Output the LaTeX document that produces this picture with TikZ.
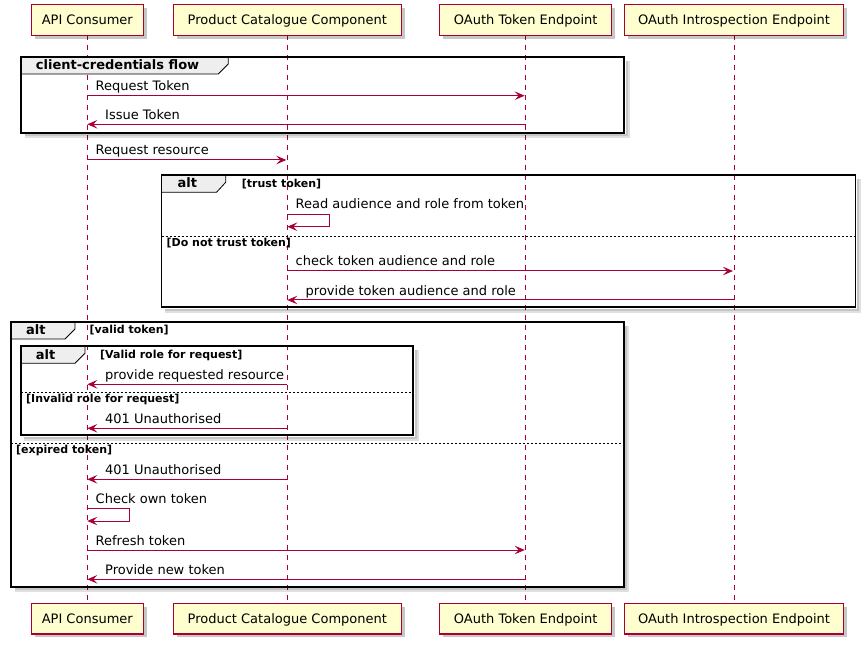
\documentclass[tikz,border=0pt]{standalone}
\usepackage{fontspec}
\setmainfont{DejaVu Sans}
\usetikzlibrary{arrows.meta,shadows}
\definecolor{pborder}{HTML}{A80036}
\definecolor{pfill}{HTML}{FEFECE}
\definecolor{tabfill}{HTML}{EEEEEE}
\begin{document}
\begin{tikzpicture}[x=1pt,y=-1pt,
  part/.style={draw=pborder, fill=pfill, line width=1.1pt, minimum height=30.5pt, inner sep=0pt,
    font=\fontsize{13}{15}\selectfont, text height=9.5pt, text depth=0pt,
    drop shadow={shadow xshift=3.5pt, shadow yshift=-3.5pt, fill=black, opacity=0.22}},
  life/.style={draw=pborder, line width=1pt, dash pattern=on 5pt off 5pt},
  msg/.style={draw=pborder, line width=1pt, -{Stealth[length=10pt,width=8.5pt,inset=4pt]}},
  lbl/.style={font=\fontsize{13}{15}\selectfont, inner sep=0pt, anchor=base west},
  glbl/.style={font=\fontsize{13}{15}\selectfont\bfseries, inner sep=0pt, anchor=base west},
  guard/.style={font=\fontsize{11}{13}\selectfont\bfseries, inner sep=0pt, anchor=base west},
  frm/.style={draw=black, line width=1.9pt},
  fshadow/.style={draw=black, opacity=0.12, line width=4pt},
  fshadowb/.style={draw=black, opacity=0.12, line width=2pt},
  tabs/.style={draw=black, line width=0.8pt, fill=tabfill},
  sep/.style={draw=black, line width=0.7pt, dash pattern=on 2pt off 2pt}
]
\useasboundingbox (0,0) rectangle (868,647);

% lifeline anchors (participant centres)
\coordinate (ca) at (87.3,20);
\coordinate (cp) at (287.3,20);
\coordinate (ct) at (525.7,20);
\coordinate (ci) at (734,20);
\coordinate (ba) at (87.3,618.7);
\coordinate (bp) at (287.3,618.7);
\coordinate (bt) at (525.7,618.7);
\coordinate (bi) at (734,618.7);

% lifelines
\draw[life] (ca) ++(0,15) coordinate (la1) -- (ba |- 0,603.3) coordinate (la2);
\draw[life] (cp) ++(0,15) coordinate (lp1) -- (bp |- 0,603.3) coordinate (lp2);
\draw[life] (ct) ++(0,15) coordinate (lt1) -- (bt |- 0,603.3) coordinate (lt2);
\draw[life] (ci) ++(0,15) coordinate (li1) -- (bi |- 0,603.3) coordinate (li2);

% ---- frame: client-credentials flow
\draw[fshadow] (627.5,61) -- (627.5,136.2) -- (24.5,136.2);
\draw[fshadowb] (626.5,61) -- (626.5,135.2) -- (24.5,135.2);
\draw[tabs] (20.7,57.3) -- (228.3,57.3) -- (228.3,64) -- (218.3,74) -- (20.7,74) -- cycle;
\draw[frm] (20.7,57.3) rectangle (624,132.7);
\node[glbl] (g1) at (35.7,70) {client-credentials flow};

% ---- frame: alt trust token
\draw[fshadow] (859,179) -- (859,310.8) -- (165,310.8);
\draw[fshadowb] (858,179) -- (858,309.8) -- (165,309.8);
\draw[tabs] (161.5,175) -- (225.7,175) -- (225.7,182.3) -- (216.5,192.3) -- (161.5,192.3) -- cycle;
\draw[frm] (161.5,175) rectangle (855.5,307.3);
\node[glbl] (g2) at (177.5,188) {alt};
\node[guard] (g2a) at (241.7,187.5) {[trust token]};
\draw[sep] (161.5,236.7) -- (855.5,236.7);
\node[guard] (g2b) at (166.5,246.5) {[Do not trust token]};

% ---- frame: outer alt valid token
\draw[fshadow] (627.2,325.5) -- (627.2,590.2) -- (14.5,590.2);
\draw[fshadowb] (626.2,325.5) -- (626.2,589.2) -- (14.5,589.2);
\draw[tabs] (11,321.7) -- (75,321.7) -- (75,329) -- (65,339) -- (11,339) -- cycle;
\draw[frm] (11,321.7) rectangle (623.7,586.7);
\node[glbl] (g3) at (26,334.5) {alt};
\node[guard] (g3a) at (89.5,334) {[valid token]};
\draw[sep] (11,443.3) -- (623.7,443.3);
\node[guard] (g3b) at (16,453.8) {[expired token]};

% ---- frame: inner alt valid role
\draw[fshadow] (416.5,350) -- (416.5,438.5) -- (24.2,438.5);
\draw[fshadowb] (415.5,350) -- (415.5,437.5) -- (24.2,437.5);
\draw[tabs] (20.7,346) -- (85,346) -- (85,353.3) -- (75,363.3) -- (20.7,363.3) -- cycle;
\draw[frm] (20.7,346) rectangle (413,435);
\node[glbl] (g4) at (35.7,359) {alt};
\node[guard] (g4a) at (100,358.7) {[Valid role for request]};
\draw[sep] (20.7,392.3) -- (413,392.3);
\node[guard] (g4b) at (26,402.8) {[Invalid role for request]};

% ---- messages
\coordinate (y1) at (0,95.7);
\coordinate (y2) at (0,124.3);
\coordinate (y3) at (0,160);
\coordinate (y4a) at (0,214.3);
\coordinate (y4b) at (0,226.7);
\coordinate (y5) at (0,271);
\coordinate (y6) at (0,300);
\coordinate (y7) at (0,384.3);
\coordinate (y8) at (0,428.3);
\coordinate (y9) at (0,479.3);
\coordinate (y10a) at (0,508.7);
\coordinate (y10b) at (0,521);
\coordinate (y11) at (0,550);
\coordinate (y12) at (0,579.3);

\draw[msg, shorten >=1pt] (ca |- y1) -- (ct |- y1);
\node[lbl] (t1) at (95.5,90.7) {Request Token};
\draw[msg] (ct |- y2) -- (ca |- y2);
\node[lbl] (t2) at (105,119.3) {Issue Token};
\draw[msg, shorten >=1pt] (ca |- y3) -- (cp |- y3);
\node[lbl] (t3) at (95.5,155) {Request resource};

\draw[msg] (cp |- y4a) -- ++(42.5,0) -- ++(0,12.4) -- (cp |- y4b);
\node[lbl] (t4) at (295.5,209) {Read audience and role from token};
\draw[msg, shorten >=1pt] (cp |- y5) -- (ci |- y5);
\node[lbl] (t5) at (295.5,266) {check token audience and role};
\draw[msg] (ci |- y6) -- (cp |- y6);
\node[lbl] (t6) at (305.5,295) {provide token audience and role};

\draw[msg] (cp |- y7) -- (ca |- y7);
\node[lbl] (t7) at (105,379.3) {provide requested resource};
\draw[msg] (cp |- y8) -- (ca |- y8);
\node[lbl] (t8) at (105,423.3) {401 Unauthorised};
\draw[msg] (cp |- y9) -- (ca |- y9);
\node[lbl] (t9) at (105,474.3) {401 Unauthorised};
\draw[msg] (ca |- y10a) -- ++(42.1,0) -- ++(0,12.3) -- (ca |- y10b);
\node[lbl] (t10) at (95.5,503.7) {Check own token};
\draw[msg, shorten >=1pt] (ca |- y11) -- (ct |- y11);
\node[lbl] (t11) at (95.5,545) {Refresh token};
\draw[msg] (ct |- y12) -- (ca |- y12);
\node[lbl] (t12) at (105,574.3) {Provide new token};

% ---- participants
\node[part, minimum width=112pt] (api) at (ca) {API Consumer};
\node[part, minimum width=228pt] (pcc) at (cp) {Product Catalogue Component};
\node[part, minimum width=172pt] (tok) at (ct) {OAuth Token Endpoint};
\node[part, minimum width=219pt] (intro) at (ci) {OAuth Introspection Endpoint};
\node[part, minimum width=112pt] (api2) at (ba) {API Consumer};
\node[part, minimum width=228pt] (pcc2) at (bp) {Product Catalogue Component};
\node[part, minimum width=172pt] (tok2) at (bt) {OAuth Token Endpoint};
\node[part, minimum width=219pt] (intro2) at (bi) {OAuth Introspection Endpoint};
\end{tikzpicture}
\end{document}
